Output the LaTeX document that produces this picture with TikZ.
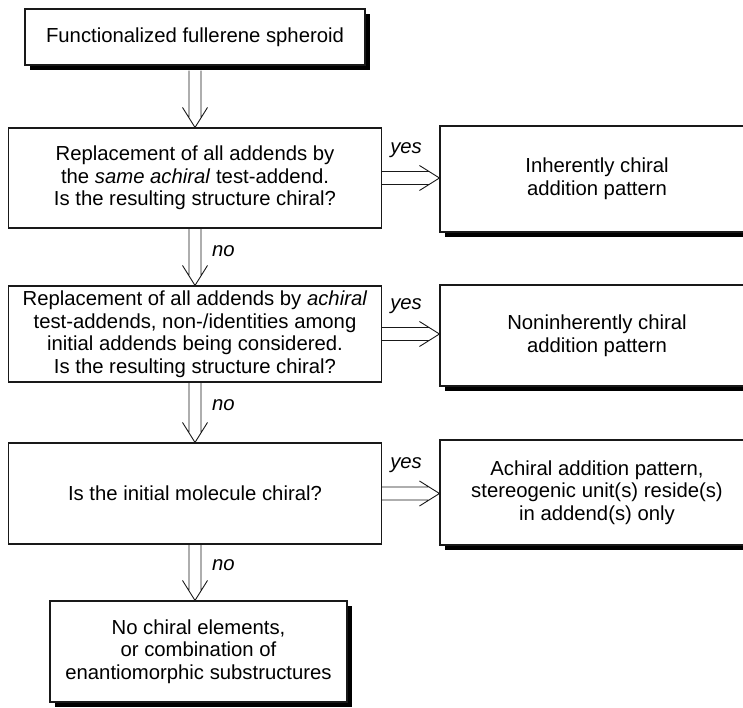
\documentclass[tikz,border=0pt]{standalone}
\usepackage{fontspec}
\setmainfont{Liberation Sans}
\usetikzlibrary{calc,shadows}
\newcommand\dnarrow[2]{%
  \draw[conn] ($(#1)+(-6,0)$) -- ($(#2)+(-6,-9.6)$)
              ($(#1)+(6,0)$) -- ($(#2)+(6,-9.6)$)
              ($(#2)+(-12.5,-20)$) -- (#2) -- ($(#2)+(12.5,-20)$);}
\newcommand\rtarrow[2]{%
  \draw[conn] ($(#1)+(0,-6.5)$) -- ($(#2)+(-10.4,-6.5)$)
              ($(#1)+(0,6.5)$) -- ($(#2)+(-10.4,6.5)$)
              ($(#2)+(-20,-12.5)$) -- (#2) -- ($(#2)+(-20,12.5)$);}
\begin{document}
\begin{tikzpicture}[x=1pt,y=-1pt,
  box/.style={draw=black!90, line width=1.1pt, fill=white, align=center,
    inner sep=0pt, font=\fontsize{20.3}{22.5}\selectfont},
  sbox/.style={box, general shadow={fill=black, shadow xshift=5pt, shadow yshift=-5pt}},
  conn/.style={line width=0.9pt, draw=black!90, line cap=butt, line join=miter},
  lbl/.style={font=\fontsize{20.3}{22.5}\selectfont\itshape, inner sep=0pt, anchor=west}]
\useasboundingbox (0,0) rectangle (743,708);
% nodes
\node[sbox, minimum width=340, minimum height=56] (b1) at (195,37) {Functionalized fullerene spheroid};
\node[box, minimum width=373, minimum height=100] (b2) at (195,178)
  {Replacement of all addends by\\the \textit{same achiral} test-addend.\\Is the resulting structure chiral?};
\node[box, minimum width=373, minimum height=96] (b3) at (195,334)
  {Replacement of all addends by \textit{achiral}\\test-addends, non-/identities among\\initial addends being considered.\\Is the resulting structure chiral?};
\node[box, minimum width=373, minimum height=101] (b4) at (195,493.5) {Is the initial molecule chiral?};
\node[sbox, minimum width=297, minimum height=101] (b5) at (198.5,651.5)
  {No chiral elements,\\or combination of\\enantiomorphic substructures};
\node[sbox, minimum width=314, minimum height=106] (r1) at (597,179) {Inherently chiral\\addition pattern};
\node[sbox, minimum width=314, minimum height=101] (r2) at (597,335.5) {Noninherently chiral\\addition pattern};
\node[sbox, minimum width=314, minimum height=105] (r3) at (597,492.5)
  {Achiral addition pattern,\\stereogenic unit(s) reside(s)\\in addend(s) only};
% connector end points
\coordinate (s1) at ($(b1.south)+(0,5)$);
\coordinate (t1) at (b1.south |- b2.north);
\coordinate (t2) at (b2.south |- b3.north);
\coordinate (t3) at (b3.south |- b4.north);
\coordinate (t4) at (b4.south |- b5.north);
\coordinate (h1) at (r1.west |- b2.east);
\coordinate (h2) at (r2.west |- b3.east);
\coordinate (h3) at (r3.west |- b4.east);
% vertical connectors
\dnarrow{s1}{t1}
\dnarrow{b2.south}{t2}
\dnarrow{b3.south}{t3}
\dnarrow{b4.south}{t4}
% horizontal connectors
\rtarrow{b2.east}{h1}
\rtarrow{b3.east}{h2}
\rtarrow{b4.east}{h3}
% labels
\node[lbl] (n1) at ($(b2.south)+(17,23)$) {no};
\node[lbl] (n2) at ($(b3.south)+(17,23)$) {no};
\node[lbl] (n3) at ($(b4.south)+(17,21)$) {no};
\node[lbl] (y1) at ($(b2.east)+(8,-28)$) {yes};
\node[lbl] (y2) at ($(b3.east)+(8,-28)$) {yes};
\node[lbl] (y3) at ($(b4.east)+(8,-28)$) {yes};
\end{tikzpicture}
\end{document}
